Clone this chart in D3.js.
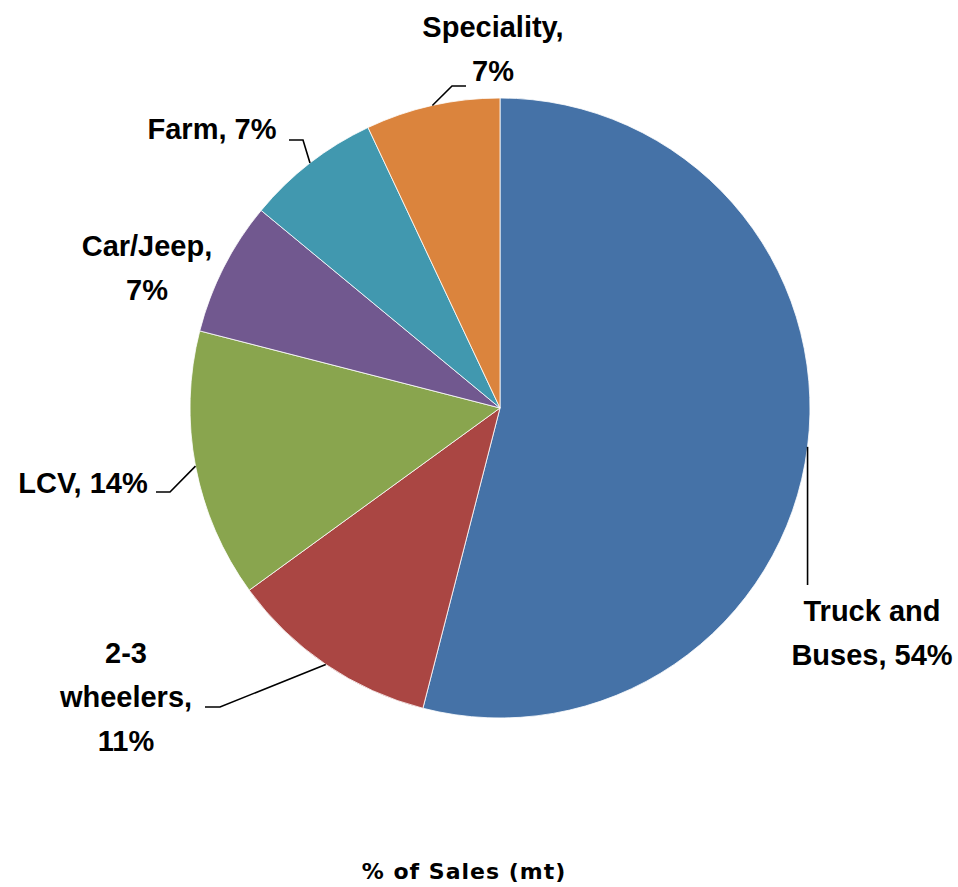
<!DOCTYPE html>
<html>
<head>
<meta charset="utf-8">
<script src="https://cdn.jsdelivr.net/npm/d3@7"></script>
<style>
  body { margin: 0; background: #fff; }
  .lbl { font-family: "Liberation Sans", Arial, sans-serif; font-weight: bold; font-size: 29px; fill: #000; }
  .title { font-family: "DejaVu Sans", Verdana, sans-serif; font-weight: bold; font-size: 22px; letter-spacing: 1px; fill: #000; }
</style>
</head>
<body>
<svg id="chart"></svg>
<script>
// data
const categories = ["Truck and Buses", "2-3 wheelers", "LCV", "Car/Jeep", "Farm", "Speciality"];
const shares = [54, 11, 14, 7, 7, 7];
const colors = ["#4572A7", "#AA4643", "#89A54E", "#71588F", "#4198AF", "#DB843D"];
const labelLines = [
    ["Truck and", "Buses, 54%"],
    ["2-3", "wheelers,", "11%"],
    ["LCV, 14%"],
    ["Car/Jeep,", "7%"],
    ["Farm, 7%"],
    ["Speciality,", "7%"]
];
const title = "% of Sales (mt)";

// label layout (text centre x, first baseline y) and leader bends
const labelPos = [[872, 621], [126, 663], [83, 493], [147, 256], [212, 139], [493, 37]];
const leaderBends = [
    [[808, 585]],
    [[205, 707], [220, 707]],
    [[156, 492], [170, 492]],
    null,
    [[289, 140], [303, 140]],
    [[466, 86], [452, 86]]
];

const width = 958, height = 887;
const cx = 500, cy = 408, radius = 310;
const lineH = 44;

const svg = d3.select('#chart')
    .attr('width', width)
    .attr('height', height);

const chart = svg.append('g')
    .attr('transform', `translate(${cx},${cy})`);

const pie = d3.pie().sort(null).value(d => d)(shares);
const arc = d3.arc().innerRadius(0).outerRadius(radius);

chart.selectAll('.slice')
    .data(pie)
    .join('path')
        .attr('class', 'slice')
        .attr('d', arc)
        .attr('fill', (d, i) => colors[i])
        .attr('stroke', '#fff')
        .attr('stroke-width', 0.8);

// leader lines: from the slice edge at mid-angle to the label
const edgePoint = d => {
    const a = (d.startAngle + d.endAngle) / 2;
    return [cx + radius * Math.sin(a), cy - radius * Math.cos(a)];
};

const line = d3.line();
pie.forEach((d, i) => {
    if (!leaderBends[i]) return;
    const pts = [edgePoint(d)].concat(leaderBends[i].slice().reverse());
    // vertical leader for the big slice keeps the edge x
    if (i === 0) pts[1] = [pts[0][0], leaderBends[i][0][1]];
    svg.append('path')
        .attr('d', line(pts))
        .attr('fill', 'none')
        .attr('stroke', '#000')
        .attr('stroke-width', 1.6);
});

// labels
labelLines.forEach((lines, i) => {
    const t = svg.append('text')
        .attr('class', 'lbl')
        .attr('text-anchor', 'middle');
    lines.forEach((s, j) => {
        t.append('tspan')
            .attr('x', labelPos[i][0])
            .attr('y', labelPos[i][1] + j * lineH)
            .text(s);
    });
});

svg.append('text')
    .attr('class', 'title')
    .attr('x', 464)
    .attr('y', 879)
    .attr('text-anchor', 'middle')
    .text(title);
</script>
</body>
</html>
